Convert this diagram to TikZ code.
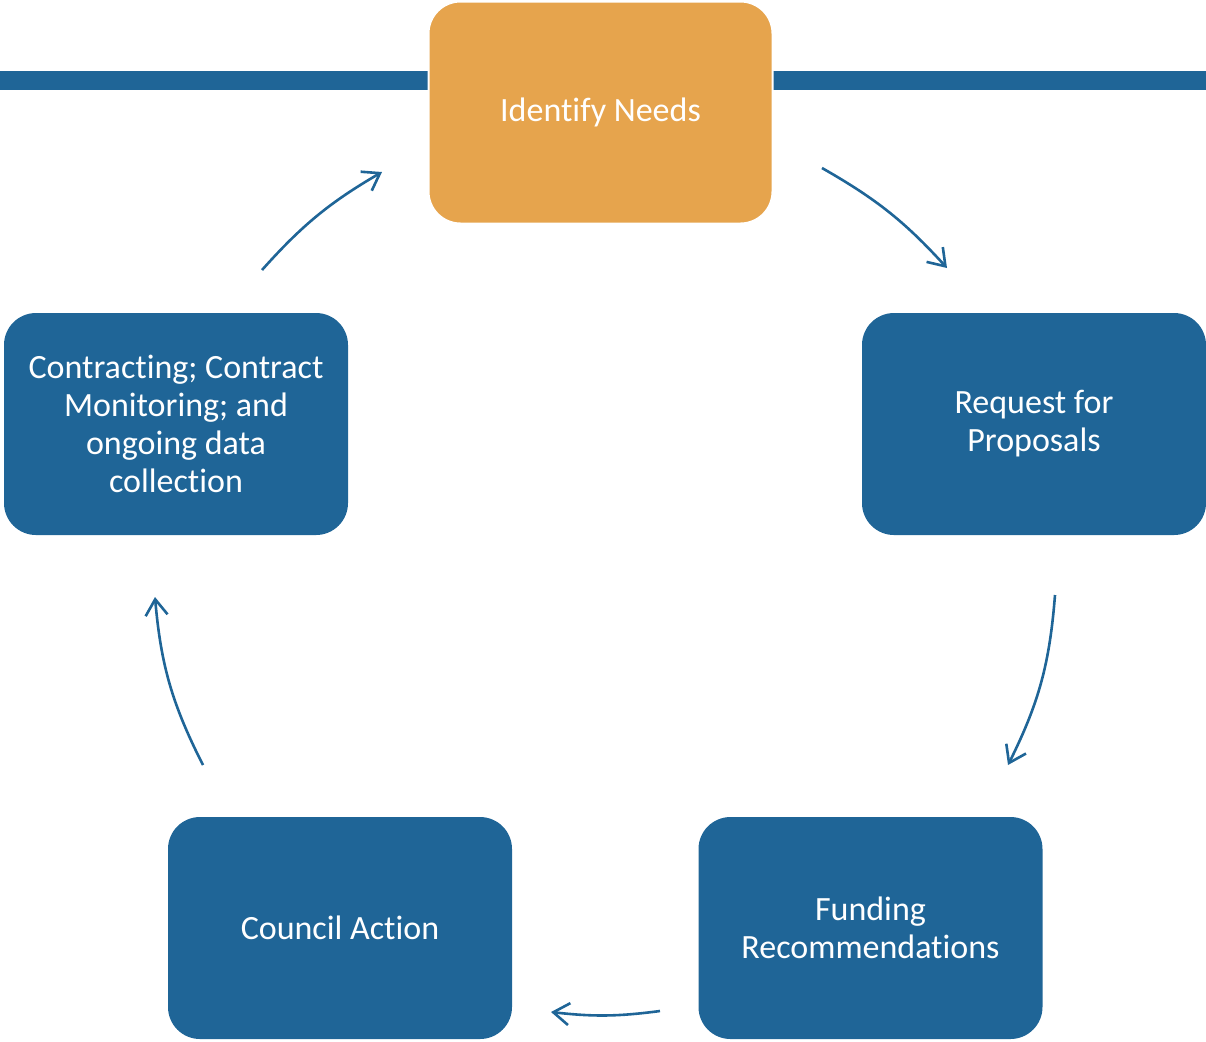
\documentclass[tikz,border=0pt]{standalone}
\usepackage{fontspec}
\setmainfont{Carlito}[Ligatures=NoCommon,RawFeature={-liga;-clig;-dlig}]
\usetikzlibrary{arrows.meta}
\definecolor{cycleblue}{RGB}{31,101,151}
\definecolor{cycleorange}{RGB}{230,164,77}
\begin{document}
\begin{tikzpicture}[x=0.5pt,y=-0.5pt,
  stage/.style={rectangle,rounded corners=16pt,fill=cycleblue,text=white,minimum width=172pt,minimum height=111pt,align=center,inner sep=0pt,font=\fontsize{17}{19}\selectfont},
  cyc/.style={draw=cycleblue,line width=1.3pt,-{Straight Barb[length=8pt,width=11pt]},bend left=#1}]
\useasboundingbox (0,0) rectangle (1206,1041);
\fill[cycleblue] (0,71) rectangle (1206,90);
\node[stage,fill=cycleorange,draw=white,line width=1pt] (needs) at (600.5,112.5) {\raisebox{-1pt}{Identify Needs}};
\node[stage] (rfp) at (1034,424) {Request for\\Proposals};
\node[stage] (fund) at (870.5,928) {Funding\\Recommendations};
\node[stage] (council) at (340,928) {Council Action};
\node[stage] (contract) at (176,424) {Contracting; Contract\\Monitoring; and\\ongoing data\\collection};
\coordinate (needs-out) at (822,168);
\coordinate (rfp-in) at (947,268);
\coordinate (rfp-out) at (1055,595);
\coordinate (fund-in) at (1008,765);
\coordinate (fund-out) at (660,1011);
\coordinate (council-in) at (551,1012);
\coordinate (council-out) at (203,765);
\coordinate (contract-in) at (155,597);
\coordinate (contract-out) at (262,270);
\coordinate (needs-in) at (382,172);
\draw[cyc=9] (needs-out) to (rfp-in);
\draw[cyc=11] (rfp-out) to (fund-in);
\draw[cyc=7] (fund-out) to (council-in);
\draw[cyc=11] (council-out) to (contract-in);
\draw[cyc=9] (contract-out) to (needs-in);
\end{tikzpicture}
\end{document}
